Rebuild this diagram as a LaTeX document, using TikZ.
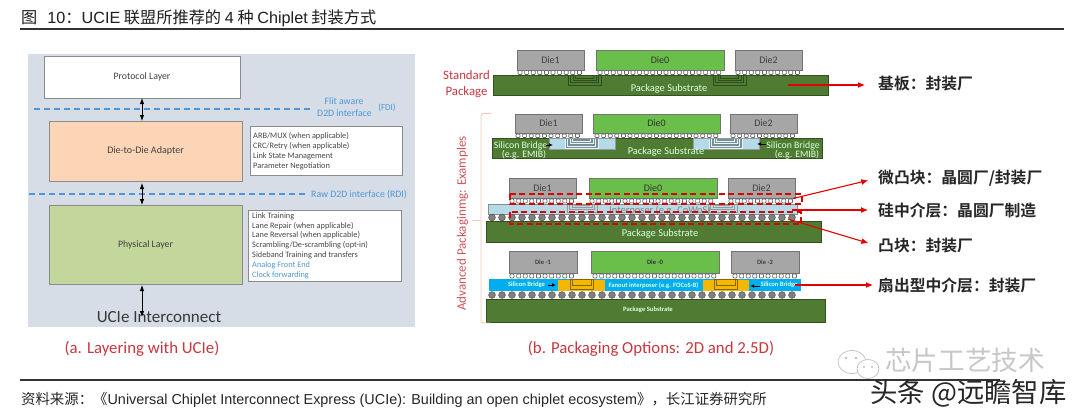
\documentclass[tikz,border=0pt]{standalone}
\usepackage{fontspec}
\setmainfont{Carlito}
\newfontfamily\cjk{Noto Sans CJK SC}[BoldFont={Noto Sans CJK SC Bold}]
\newfontfamily\lat{Liberation Sans}
\usetikzlibrary{arrows.meta}
\definecolor{panelbg}{HTML}{D6DDE7}
\definecolor{edgegrey}{HTML}{8C8C8C}
\definecolor{ifaceblue}{HTML}{4F97D6}
\definecolor{capred}{HTML}{C8383E}
\definecolor{subgreen}{HTML}{4F7C32}
\definecolor{subedge}{HTML}{3F6527}
\definecolor{diegreen}{HTML}{6ABF4B}
\definecolor{diegrey}{HTML}{A6A6A6}
\definecolor{bluebridge}{HTML}{B4DCE8}
\definecolor{cyanfan}{HTML}{00AEEF}
\definecolor{goldfan}{HTML}{F5B800}
\definecolor{orangebr}{HTML}{F6C9B0}
\definecolor{salmon}{HTML}{FBD5B5}
\definecolor{phygreen}{HTML}{C3D69B}
\tikzset{
  x=1pt,y=-1pt,
  pxnode/.style={inner sep=0pt,outer sep=0pt,align=center,font=\fontsize{9.8}{11}\selectfont,text=black!75},
  layerbox/.style={pxnode,draw=edgegrey,line width=1pt},
  notebox/.style={draw=edgegrey,line width=1pt,fill=white},
  notetext/.style={anchor=west,inner sep=0pt,font=\fontsize{8.3}{9}\selectfont,text=black!72},
  bluetext/.style={text=ifaceblue,inner sep=0pt,font=\fontsize{9.8}{11}\selectfont},
  ifaceline/.style={draw=ifaceblue,line width=1.2pt,dash pattern=on 6pt off 4pt},
  stackarrow/.style={draw=black,line width=.8pt,{Latex[length=6pt,width=4.5pt]}-{Latex[length=6pt,width=4.5pt]}},
  greydie/.style={pxnode,draw=black!55,fill=diegrey,line width=.8pt,font=\fontsize{10}{11}\selectfont},
  greendie/.style={pxnode,draw=black!55,fill=diegreen,line width=.8pt,font=\fontsize{10}{11}\selectfont,text=black!80},
  substrate/.style={pxnode,draw=subedge!80!black,fill=subgreen,line width=.8pt},
  bluelayer/.style={pxnode,draw=black!45,fill=bluebridge,line width=.7pt},
  whitesmall/.style={inner sep=0pt,text=white!88!green,font=\fontsize{9.8}{10.5}\selectfont,align=center},
  whitetiny/.style={inner sep=0pt,text=white!88!green,font=\bfseries\fontsize{6.6}{8}\selectfont},
  callout/.style={draw=red!90!black,line width=1.1pt,-{Latex[length=7pt,width=6pt]}},
  labeltext/.style={anchor=west,inner sep=0pt,font=\cjk\bfseries\fontsize{15.8}{18}\selectfont,text=black!85},
  redframe/.style={draw=red!85!black,line width=1.2pt,dash pattern=on 6pt off 3.5pt},
  tinyarrow/.style={draw=black,line width=.7pt,-{Latex[length=4pt,width=3.5pt]}},
  captiontext/.style={inner sep=0pt,text=capred,font=\fontsize{16.8}{18}\selectfont},
}
% Box given by its corner coordinates: name, style, x1, y1, x2, y2, text
\newcommand{\pxbox}[7]{%
  \pgfmathsetmacro{\bw}{#5-#3}\pgfmathsetmacro{\bh}{#6-#4}%
  \pgfmathsetmacro{\bx}{(#3+#5)/2}\pgfmathsetmacro{\by}{(#4+#6)/2}%
  \node[#2,minimum width=\bw pt,minimum height=\bh pt] (#1) at (\bx,\by) {#7};}
% Row of small bumps: x start, x end, y top, y bottom
\newcommand{\microbumps}[4]{%
  \pgfmathsetmacro{\nextu}{#1+6.6}%
  \foreach \u in {#1,\nextu,...,#2}{%
    \draw[black!60,fill=white,line width=.7pt,rounded corners=.8pt] (\u-2,#3+.5) rectangle (\u+2,#4-.5);}}
% Row of large bumps: x start, x end, y top, y bottom
\newcommand{\bigbumps}[4]{%
  \foreach \u in {#1,\the\numexpr#1+10\relax,...,#2}{%
    \draw[black!70,fill=black!50,line width=.5pt] (\u,{(#3+#4)/2}) circle (3.4pt);}}
% Nested U traces of an embedded bridge: x start, x end, y top, y bottom, colour
\newcommand{\traces}[5]{%
  \draw[#5,line width=.6pt] (#1,#3) -- (#1,#4) -- (#2,#4) -- (#2,#3);
  \draw[#5,line width=.6pt] (#1+2.5,#3) -- (#1+2.5,#4-2.5) -- (#2-2.5,#4-2.5) -- (#2-2.5,#3);
  \draw[#5,line width=.6pt] (#1+5,#3) -- (#1+5,#4-5) -- (#2-5,#4-5) -- (#2-5,#3);
  \draw[#5,line width=.6pt] (#1+7.5,#3) -- (#1+7.5,#4-7) -- (#2-7.5,#4-7) -- (#2-7.5,#3);}
\begin{document}
\begin{tikzpicture}
\useasboundingbox (0,0) rectangle (1080,416);
\fill[white] (0,0) rectangle (1080,416);

% Heading and source lines
\node[anchor=west,inner sep=0pt,text=black!88,font=\fontsize{16.2}{18}\selectfont] (title) at (21,18.5)
  {{\cjk 图}\hspace{10pt}{\lat 10}{\cjk ：}{\lat UCIE} {\cjk 联盟所推荐的} {\lat 4} {\cjk 种} {\lat Chiplet} {\cjk 封装方式}};
\draw[black!80,line width=1.5pt] (20,29) -- (1064,29);
\draw[black!80,line width=1.2pt] (20,380) -- (1000,380);
\node[anchor=west,inner sep=0pt,text=black!85,font=\fontsize{14.4}{16}\selectfont] (source) at (21,400)
  {{\cjk 资料来源：《}{\lat Universal Chiplet Interconnect Express (UCIe): Building an open chiplet ecosystem}{\cjk 》，长江证券研究所}};

% ---- Layering panel ----
\fill[panelbg] (28,54) rectangle (415,327);
\pxbox{proto}{layerbox,fill=white}{44}{56}{240}{98}{Protocol Layer}
\pxbox{adapter}{layerbox,fill=salmon}{49}{121}{242}{181}{\fontsize{10}{11}\selectfont Die-to-Die Adapter}
\pxbox{phy}{layerbox,fill=phygreen}{49}{205}{242}{284}{Physical Layer}

\draw[notebox] (250,126) rectangle (402,175);
\node[notetext] (n1) at (253,136) {ARB/MUX (when applicable)};
\node[notetext] (n2) at (253,146) {CRC/Retry (when applicable)};
\node[notetext] (n3) at (253,156) {Link State Management};
\node[notetext] (n4) at (253,166) {Parameter Negotiation};

\draw[notebox] (248,210) rectangle (401,281);
\node[notetext] (p1) at (252,216) {Link Training};
\node[notetext] (p2) at (252,226.5) {Lane Repair (when applicable)};
\node[notetext] (p3) at (252,235.5) {Lane Reversal (when applicable)};
\node[notetext] (p4) at (252,245) {Scrambling/De-scrambling (opt-in)};
\node[notetext] (p5) at (252,255) {Sideband Training and transfers};
\node[notetext,text=ifaceblue] (p6) at (252,265) {Analog Front End};
\node[notetext,text=ifaceblue] (p7) at (252,275) {Clock forwarding};

\coordinate (fdiL) at (34,109);  \coordinate (fdiR) at (313,109);
\coordinate (rdiL) at (29,194);  \coordinate (rdiR) at (308,194);
\draw[ifaceline] (fdiL) -- (fdiR);
\draw[ifaceline] (rdiL) -- (rdiR);
\node[bluetext] (fdi1) at (344,101.5) {Flit aware};
\node[bluetext] (fdi2) at (344.5,113.5) {D2D interface};
\node[bluetext,font=\fontsize{9}{10}\selectfont] (fdi3) at (387,108) {(FDI)};
\node[bluetext,anchor=west] (rdi) at (311,194.5) {Raw D2D interface (RDI)};

\coordinate (a1t) at (142,98);  \coordinate (a1b) at (142,121);
\coordinate (a2t) at (142,183); \coordinate (a2b) at (142,205);
\coordinate (a3t) at (142,285); \coordinate (a3b) at (142,317);
\draw[stackarrow] (a1t) -- (a1b);
\draw[stackarrow] (a2t) -- (a2b);
\node[inner sep=0pt,text=black!78,font=\fontsize{17}{19}\selectfont] (ucie) at (159,317.5) {UCIe Interconnect};
\draw[stackarrow] (a3t) -- (a3b);
\node[captiontext] (capa) at (142,349) {(a. Layering with UCIe)};

% ---- Standard package ----
\node[inner sep=0pt,font=\fontsize{12.8}{16}\selectfont,align=center,text=capred] (std) at (466.5,84) {Standard\\Package};
\microbumps{520}{581}{70}{75}
\microbumps{600}{722}{70}{75}
\microbumps{738}{800}{70}{75}
\pxbox{s1}{greydie}{517}{50}{584}{70}{Die1}
\pxbox{s0}{greendie}{596}{50}{724}{70}{Die0}
\pxbox{s2}{greydie}{735}{50}{802}{70}{Die2}
\pxbox{ssub}{substrate}{493}{75}{828}{95}{}
\node[whitesmall,font=\fontsize{10.4}{11}\selectfont] (ssubt) at (669,88.5) {Package Substrate};
\traces{568}{601}{75.5}{85}{subedge!75!black}
\traces{713}{746}{75.5}{85}{subedge!75!black}

% ---- EMIB style package ----
\microbumps{518}{580}{133.5}{138}
\microbumps{597}{718}{133.5}{138}
\microbumps{733}{795}{133.5}{138}
\pxbox{e1}{greydie}{515}{114}{582}{133}{Die1}
\pxbox{e0}{greendie}{593}{114}{720}{133}{Die0}
\pxbox{e2}{greydie}{730}{114}{797}{133}{Die2}
\pxbox{esub}{substrate}{492}{138}{822}{158}{}
\pxbox{eb1}{pxnode,draw=black!40,fill=bluebridge,line width=.6pt}{549}{138}{615}{149}{}
\pxbox{eb2}{pxnode,draw=black!40,fill=bluebridge,line width=.6pt}{693}{138}{759}{149}{}
\fill[black!35!bluebridge] (565,138.5) rectangle (598,148.5);
\fill[black!35!bluebridge] (709,138.5) rectangle (742,148.5);
\traces{565}{598}{138.5}{148.5}{white!70!bluebridge}
\traces{709}{742}{138.5}{148.5}{white!70!bluebridge}
\node[whitesmall] (el1) at (520.5,145.5) {Silicon Bridge};
\node[whitesmall] (el2) at (524,155) {(e.g. EMIB)};
\node[whitesmall] (er1) at (793,145.5) {Silicon Bridge};
\node[whitesmall] (er2) at (797,155) {(e.g. EMIB)};
\node[whitesmall,font=\fontsize{10.4}{11}\selectfont] (esubt) at (666,151.5) {Package Substrate};
\coordinate (ea1) at (546,145); \coordinate (ea2) at (553,145);
\coordinate (eb1s) at (766,144); \coordinate (eb2e) at (757,144);
\draw[tinyarrow] (ea1) -- (ea2);
\draw[tinyarrow] (eb1s) -- (eb2e);

% ---- Silicon interposer package ----
\pxbox{c1}{greydie}{509}{178}{576}{198}{Die1}
\pxbox{c0}{greendie}{589}{178}{717}{198}{Die0}
\pxbox{c2}{greydie}{728}{178}{795}{198}{Die2}
\microbumps{512}{573}{198.5}{203.5}
\microbumps{592}{714}{198.5}{203.5}
\microbumps{731}{792}{198.5}{203.5}
\pxbox{cint}{bluelayer}{488}{204}{797}{214}{}
\node[inner sep=0pt,text=black!50,font=\fontsize{10.4}{11}\selectfont] (cintt) at (660,211) {Interposer (e.g. CoWoS)};
\traces{567}{597}{204.5}{212}{black!40}
\traces{708}{737}{204.5}{212}{black!40}
\bigbumps{492}{792}{214}{221}
\pxbox{csub}{substrate}{486}{221}{821}{242}{}
\node[whitesmall,font=\fontsize{10.4}{11}\selectfont] (csubt) at (660,233.5) {Package Substrate};
\draw[redframe] (510,194) rectangle (802,204);
\draw[redframe] (510,212) rectangle (801,224);
\node[inner sep=0pt,minimum size=0pt] (micro) at (793,198.5) {};
\node[inner sep=0pt,minimum size=0pt] (silicon) at (792,210) {};
\node[inner sep=0pt,minimum size=0pt] (bump) at (788,219) {};

% ---- Fanout interposer package ----
\pxbox{f1}{greydie}{509}{251}{577}{273}{\bfseries\fontsize{6.6}{8}\selectfont Die -1}
\pxbox{f0}{greendie}{591}{251}{719}{273}{\bfseries\fontsize{6.6}{8}\selectfont Die -0}
\pxbox{f2}{greydie}{731}{251}{799}{273}{\bfseries\fontsize{6.6}{8}\selectfont Die -2}
\microbumps{512}{574}{273.5}{278.5}
\microbumps{595}{716}{273.5}{278.5}
\microbumps{735}{796}{273.5}{278.5}
\pxbox{fint}{pxnode,fill=cyanfan}{489}{279}{801}{291}{}
\fill[goldfan] (558,279.5) rectangle (605,290.5);
\fill[goldfan] (703,279.5) rectangle (749,290.5);
\draw[black!45!goldfan,line width=.7pt] (570,279.5) rectangle (593,289);
\draw[black!45!goldfan,line width=.7pt] (572,279.5) rectangle (591,285);
\draw[black!45!goldfan,line width=.7pt] (714,279.5) rectangle (737,289);
\draw[black!45!goldfan,line width=.7pt] (716,279.5) rectangle (735,285);
\node[whitetiny] (fl) at (526.5,285) {Silicon Bridge};
\node[whitetiny] (fm) at (653.5,285.5) {Fanout interposer (e.g. FOCoS-B)};
\node[whitetiny] (fr) at (779,285) {Silicon Bridge};
\coordinate (fa1) at (548,285); \coordinate (fa2) at (556,285);
\coordinate (fb1) at (760,286); \coordinate (fb2) at (750,286);
\draw[tinyarrow] (fa1) -- (fa2);
\draw[tinyarrow] (fb1) -- (fb2);
\bigbumps{492}{795}{291}{299}
\pxbox{fsub}{substrate}{486}{299}{825}{322}{}
\node[whitetiny] (fsubt) at (648,309.5) {Package Substrate};

% Bracket and label of the advanced group
\draw[orangebr,line width=.9pt,rounded corners=2.5pt] (491,113.5) -- (481,113.5) -- (481,323) -- (490,323);
\draw[orangebr,line width=.9pt] (472,220) -- (481,220);
\node[inner sep=0pt,rotate=90,text=capred!85!white,font=\fontsize{13}{15}\selectfont] (adv) at (462.5,223.5) {Advanced Packaginmg: Examples};
\node[captiontext] (capb) at (651,349) {(b. Packaging Options: 2D and 2.5D)};

% ---- Right-hand callouts ----
\node[labeltext] (lab1) at (878,84) {基板：封装厂};
\node[labeltext] (lab2) at (878,178) {微凸块：晶圆厂/封装厂};
\node[labeltext] (lab3) at (878,210) {硅中介层：晶圆厂制造};
\node[labeltext] (lab4) at (878,246) {凸块：封装厂};
\node[labeltext] (lab5) at (878,285) {扇出型中介层：封装厂};
\node[inner sep=0pt,minimum size=0pt] (sub1) at (788,85) {};
\node[inner sep=0pt,minimum size=0pt] (fan1) at (795,285) {};
\draw[callout,shorten >=13pt] (sub1) -- (sub1 -| lab1.west);
\draw[callout,shorten >=10pt] (micro) -- (lab2.west);
\draw[callout,shorten >=10pt] (silicon) -- (lab3.west);
\draw[callout,shorten >=10pt] (bump) -- (lab4.west);
\draw[callout,shorten >=5pt] (fan1) -- (lab5.west);

% ---- Account marks in the lower right ----
\fill[white,draw=black!25,line width=.7pt] (852,362) ellipse (14pt and 11.5pt);
\fill[white,draw=black!25,line width=.7pt] (868,369) ellipse (11pt and 9.5pt);
\fill[black!25] (846,358) circle (1.3pt) (856,358) circle (1.3pt) (864,367) circle (1.2pt) (872,367) circle (1.2pt);
\node[anchor=west,inner sep=0pt,text=black!22,font=\cjk\fontsize{26.6}{28}\selectfont] (wm1) at (885,360) {芯片工艺技术};
\node[anchor=west,inner sep=0pt,text=black!85,font=\cjk\fontsize{27.4}{29}\selectfont] (wm2) at (870,393) {头条 @远瞻智库};
\end{tikzpicture}
\end{document}
